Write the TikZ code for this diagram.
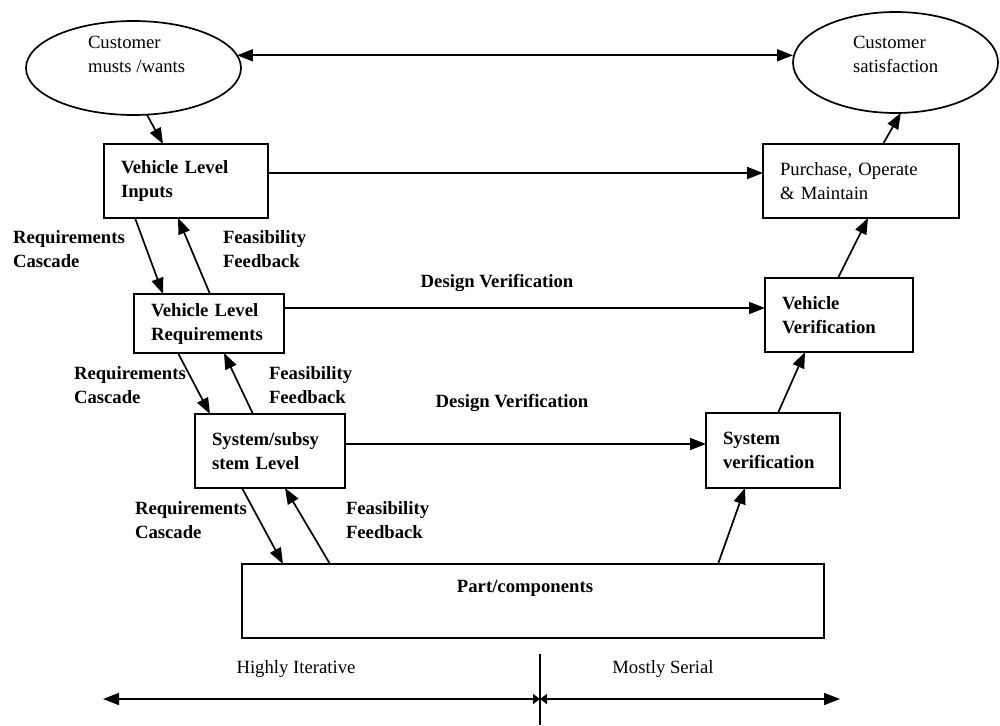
\documentclass[tikz,border=0pt]{standalone}
\usepackage{fontspec}
\setmainfont{Liberation Serif}
\usetikzlibrary{arrows.meta,shapes.geometric}
\begin{document}
\begin{tikzpicture}[x=1pt,y=-1pt,
  line width=1.7pt,
  >={Triangle[length=16pt,width=12pt]},
  every node/.style={outer sep=0pt},
  bigfont/.style={font=\fontsize{18.7}{24}\selectfont\bfseries},
  lightfont/.style={font=\fontsize{18.7}{24}\selectfont},
  lbl/.style={bigfont, align=left, inner sep=0pt},
  lbllight/.style={lightfont, align=left, inner sep=0pt},
  stage/.style={draw, rectangle, inner ysep=0pt, inner xsep=17pt, align=left, bigfont},
  oval/.style={draw, ellipse, inner sep=0pt}
]
\useasboundingbox (0,0) rectangle (1000,725);

% customer ovals
\node[oval, minimum width=215pt, minimum height=94pt] (cm) at (133.5,68) {};
\node[lbllight, anchor=west] (cmtxt) at (88,54) {Customer\\musts /wants};
\node[oval, minimum width=205pt, minimum height=101pt] (cs) at (895.5,62.5) {};
\node[lbllight, anchor=west] (cstxt) at (853,54) {Customer\\satisfaction};

% left leg: decomposition
\node[stage, minimum width=164pt, minimum height=74pt, text width=130pt] (vli) at (186,181) {Vehicle Level\\Inputs};
\node[stage, minimum width=150pt, minimum height=59pt, text width=116pt] (vlr) at (209,323.5) {Vehicle Level\\Requirements};
\node[stage, minimum width=150pt, minimum height=74pt, text width=116pt] (ssl) at (270,451) {System/subsy\\stem Level};
\node[draw, rectangle, minimum width=582pt, minimum height=74pt] (part) at (533,601) {};
\node[lbl] (parttxt) at (525,588) {Part/components};

% right leg: verification
\node[stage, lightfont, minimum width=196pt, minimum height=74pt, text width=162pt] (pom) at (861,181) {Purchase, Operate\\\& Maintain};
\node[stage, minimum width=148pt, minimum height=74pt, text width=114pt] (vv) at (839,315) {Vehicle\\Verification};
\node[stage, minimum width=134pt, minimum height=75pt, text width=100pt] (sv) at (773,450.5) {System\\verification};

% cascade / feedback labels
\node[lbl, anchor=west] (rc1) at (13,249.5) {Requirements\\Cascade};
\node[lbl, anchor=west] (ff1) at (223,249.5) {Feasibility\\Feedback};
\node[lbl, anchor=west] (rc2) at (74,385) {Requirements\\Cascade};
\node[lbl, anchor=west] (ff2) at (269,385) {Feasibility\\Feedback};
\node[lbl, anchor=west] (rc3) at (135,520) {Requirements\\Cascade};
\node[lbl, anchor=west] (ff3) at (346,520) {Feasibility\\Feedback};
\node[lbl] (dv1) at (497,283) {Design Verification};
\node[lbl] (dv2) at (512,403) {Design Verification};

% connectors
\draw[<->] (cm.7) -- (cm.7 -| cs.west);
\draw[->] (cm.-74) -- ([xshift=-23pt]vli.north);
\draw[->] ([yshift=8pt]vli.east) -- ([yshift=8pt]pom.west);
\draw[->] ([xshift=22pt]pom.north) -- (cs.-84);

\draw[->] ([xshift=-51pt]vli.south) -- ([xshift=-46pt]vlr.north);
\draw[->] ([xshift=1pt]vlr.north) -- ([xshift=-8pt]vli.south);
\draw[->] ([yshift=15.5pt]vlr.east) -- ([yshift=15.5pt]vlr.east -| vv.west);
\draw[->] ([xshift=-1pt]vv.north) -- ([xshift=7pt]pom.south);

\draw[->] ([xshift=-31pt]vlr.south) -- ([xshift=-60pt]ssl.north);
\draw[->] ([xshift=-17pt]ssl.north) -- ([xshift=15pt]vlr.south);
\draw[->] ([yshift=7pt]ssl.east) -- ([yshift=7pt]ssl.east -| sv.west);
\draw[->] ([xshift=5pt]sv.north) -- ([xshift=-34pt]vv.south);

\draw[->] ([xshift=-28pt]ssl.south) -- ([xshift=-250pt]part.north);
\draw[->] ([xshift=-203pt]part.north) -- ([xshift=15pt]ssl.south);
\draw[->] ([xshift=185pt]part.north) -- ([xshift=-28pt]sv.south);

% iterative / serial scale
\coordinate (mid) at (540,699);
\coordinate (lend) at (103,699);
\coordinate (rend) at (840,699);
\coordinate (vtop) at (540,654);
\coordinate (vbot) at (540,725);
\draw (vtop) -- (vbot);
\draw[{Triangle[length=16pt,width=12pt]}-{Triangle[length=7pt,width=10pt]}] (lend) -- (mid);
\draw[{Triangle[length=7pt,width=10pt]}-{Triangle[length=16pt,width=12pt]}] (mid) -- (rend);
\node[lbllight] (hi) at (296,669) {Highly Iterative};
\node[lbllight] (ms) at (663,669) {Mostly Serial};
\end{tikzpicture}
\end{document}
